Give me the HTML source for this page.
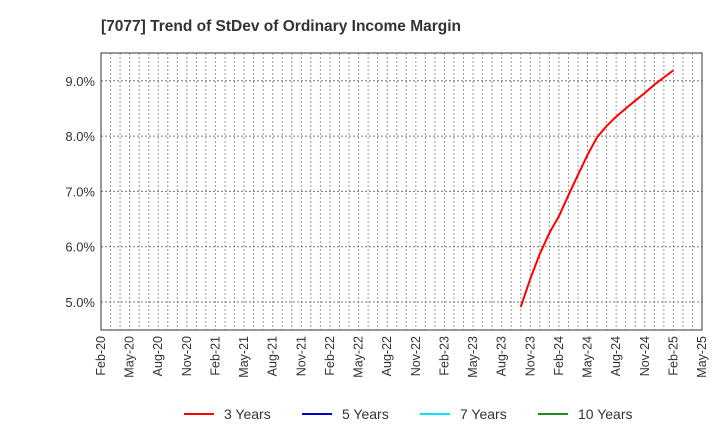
<!DOCTYPE html>
<html><head><meta charset="utf-8"><style>
body{margin:0;background:#fff;font-family:"Liberation Sans",sans-serif}
</style></head><body>
<svg id="c" width="720" height="440" xmlns="http://www.w3.org/2000/svg" font-family="Liberation Sans, sans-serif">
<text x="101" y="31" font-size="15.5" font-weight="bold" fill="#333">[7077]  Trend of StDev of Ordinary Income Margin</text>
<g id="grid"></g>
<g id="yticks"></g>
<g id="xticks"></g>
<g id="series"></g>
<rect x="101" y="53" width="601" height="277" fill="none" stroke="#333" stroke-width="1"/>
<g id="legend"></g>
</svg>
<script>
const xLabels=["Feb-20","May-20","Aug-20","Nov-20","Feb-21","May-21","Aug-21","Nov-21","Feb-22","May-22","Aug-22","Nov-22","Feb-23","May-23","Aug-23","Nov-23","Feb-24","May-24","Aug-24","Nov-24","Feb-25","May-25"];
const yTicks=[5,6,7,8,9];
const startMonth=44; // Oct-23, months since Feb-20
const series3=[4.91,5.42,5.87,6.25,6.55,6.93,7.3,7.66,7.98,8.18,8.35,8.5,8.64,8.78,8.93,9.06,9.19];
const series5=[];
const series7=[];
const series10=[];
const NS="http://www.w3.org/2000/svg";
const L=101,R=702,T=53,B=330;
const xs=m=>L+m*(R-L)/63;
const ys=v=>302-(v-5)*55.3;
function mk(t,a,p){const e=document.createElementNS(NS,t);for(const k in a)e.setAttribute(k,a[k]);p.appendChild(e);return e;}
const g=document.getElementById('grid');
for(let m=1;m<63;m++){const l=mk('line',{x1:xs(m),x2:xs(m),y1:T,y2:B,stroke:'#999','stroke-dasharray':'2,2','stroke-width':1},g);

}
const yt=document.getElementById('yticks');
yTicks.forEach(v=>{const l=mk('line',{x1:L,x2:R,y1:ys(v),y2:ys(v),stroke:'#777','stroke-dasharray':'2,2','stroke-width':1},g);


const t=mk('text',{x:L-6,y:ys(v)+5,'text-anchor':'end','font-size':13,fill:'#333'},yt);
t.textContent=v.toFixed(1)+'%';

});
const xt=document.getElementById('xticks');
xLabels.forEach((s,i)=>{const x=xs(i*3);const t=mk('text',{x:x+4,y:B+6,'text-anchor':'end','font-size':12.5,fill:'#333',transform:`rotate(-90 ${x+4} ${B+6})`},xt);
t.textContent=s;

});
const sg=document.getElementById('series');
function draw(arr,col,name){if(!arr.length)return;const d=arr.map((v,i)=>(i?'L':'M')+xs(startMonth+i).toFixed(1)+','+ys(v).toFixed(1)).join(' ');
const p=mk('path',{d:d,fill:'none',stroke:col,'stroke-width':2,'stroke-linejoin':'round'},sg);

}
draw(series3,'#ff0000','line-3-years');draw(series5,'#0000cc','line-5-years');draw(series7,'#00e5ff','line-7-years');draw(series10,'#228b22','line-10-years');
const lg=document.getElementById('legend');
[["3 Years","#ff0000",184],["5 Years","#0000cc",302],["7 Years","#00e5ff",420],["10 Years","#228b22",538]].forEach(([n,c,x])=>{
const e=mk('g',{},lg);


mk('line',{x1:x,x2:x+30,y1:414,y2:414,stroke:c,'stroke-width':2},e);
const t=mk('text',{x:x+40,y:419,'font-size':14,fill:'#333'},e);t.textContent=n;});
</script>
</body></html>
